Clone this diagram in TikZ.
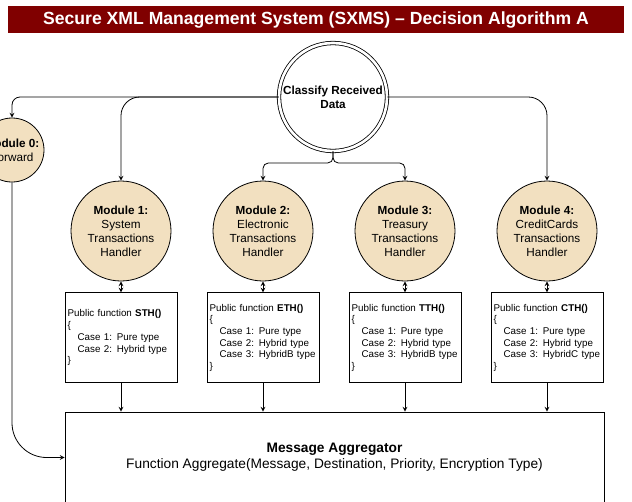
\documentclass[tikz,border=0pt]{standalone}
\usepackage{fontspec}
\setmainfont{Liberation Sans}
\usepackage{xcolor}
\usepackage{tikz}
\usetikzlibrary{
  positioning
}

\definecolor{titlered}{RGB}{128,0,0}
\definecolor{modulefill}{RGB}{242,224,192}
\newcommand{\caseline}[1]{\hspace*{7.5pt}#1}

\begin{document}
\begin{tikzpicture}[>=stealth, x=0.75pt, y=-0.75pt, line width=0.6pt,
  module/.style={circle, draw, fill=modulefill, minimum size=75pt, inner sep=0pt,
    align=center, font=\fontsize{8.8}{10.5}\selectfont},
  funcbox/.style={draw, text width=80pt, minimum height=67.5pt, inner sep=2pt,
    align=left, font=\fontsize{7.35}{8.8}\selectfont}]
  \useasboundingbox (0,0) rectangle (632,501);
  \node [fill=titlered, minimum width=462pt, minimum height=20.25pt, text=white,
    font=\fontsize{13.2}{15}\selectfont\bfseries] (title) at (316,19.5)
    {Secure XML Management System (SXMS) – Decision Algorithm A};

  \node [circle, draw, double, double distance=2pt, fill=white, minimum size=81pt,
    inner sep=0pt, align=center, font=\fontsize{8.8}{10.5}\selectfont\bfseries]
    (classify) at (333,97) {Classify Received\\Data};
  \node [module, minimum size=48pt] (mod0) at (12,150) {\textbf{Module 0:}\\Forward};
  \node [module] (mod1) at (121,231) {\textbf{Module 1:}\\System\\Transactions\\Handler};
  \node [module] (mod2) at (263,231) {\textbf{Module 2:}\\Electronic\\Transactions\\Handler};
  \node [module] (mod3) at (405,231) {\textbf{Module 3:}\\Treasury\\Transactions\\Handler};
  \node [module] (mod4) at (547,231) {\textbf{Module 4:}\\CreditCards\\Transactions\\Handler};

  \node [funcbox, below=8.25pt of mod1] (sth) {Public function \textbf{STH()}\\\{\\
    \caseline{Case 1: Pure type}\\\caseline{Case 2: Hybrid type}\\\}};
  \node [funcbox, below=8.25pt of mod2] (eth) {Public function \textbf{ETH()}\\\{\\
    \caseline{Case 1: Pure type}\\\caseline{Case 2: Hybrid type}\\\caseline{Case 3: HybridB type}\\\}};
  \node [funcbox, below=8.25pt of mod3] (tth) {Public function \textbf{TTH()}\\\{\\
    \caseline{Case 1: Pure type}\\\caseline{Case 2: Hybrid type}\\\caseline{Case 3: HybridB type}\\\}};
  \node [funcbox, below=8.25pt of mod4] (cth) {Public function \textbf{CTH()}\\\{\\
    \caseline{Case 1: Pure type}\\\caseline{Case 2: Hybrid type}\\\caseline{Case 3: HybridC type}\\\}};

  \node [draw, minimum width=404.25pt, minimum height=68.25pt, align=center,
    font=\fontsize{10.3}{12}\selectfont] (aggregator) at (334.5,457.5)
    {\textbf{Message Aggregator}\\Function Aggregate(Message, Destination, Priority, Encryption Type)};

  \coordinate (fork) at (333,163);
  \draw [->, rounded corners=6pt] (classify.west) -| (mod0.north);
  \draw [->, rounded corners=14pt] (classify.west) -| (mod1.north);
  \draw [->, rounded corners=14pt] (classify.east) -| (mod4.north);
  \draw [->, rounded corners=4pt] (classify.south) -- (fork) -| (mod2.north);
  \draw [->, rounded corners=4pt] (classify.south) -- (fork) -| (mod3.north);
  \foreach \m/\f in {mod1/sth, mod2/eth, mod3/tth, mod4/cth} {
    \draw [<->] (\m.south) -- (\f.north);
    \draw [->] (\f.south) -- (\f.south |- aggregator.north);
  }
  \draw [->, rounded corners=26pt] (mod0.south) |- (aggregator.west);
\end{tikzpicture}
\end{document}
